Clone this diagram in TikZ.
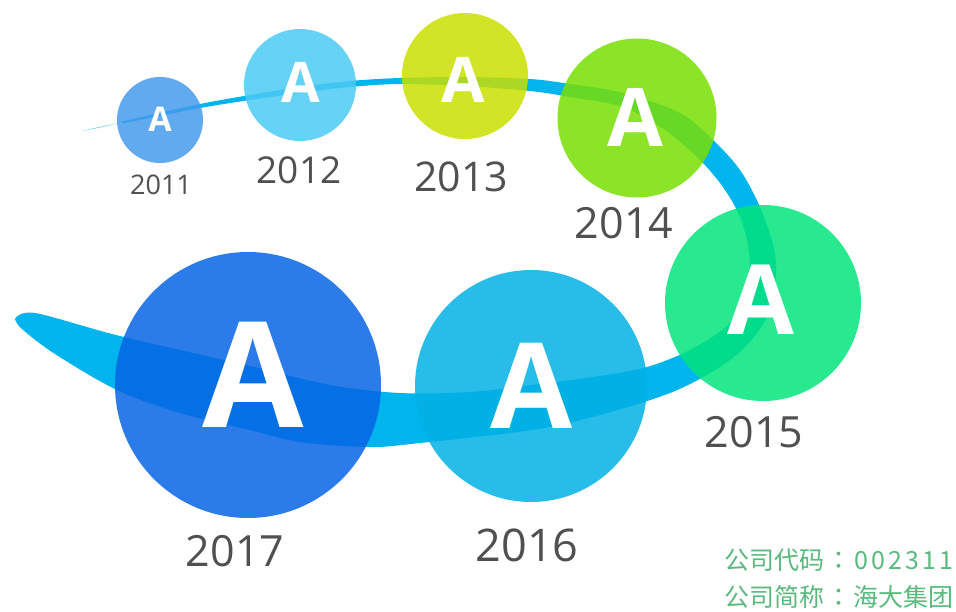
\documentclass[tikz,border=0pt]{standalone}
\usepackage{fontspec}
\setmainfont{Open Sans}
\newfontfamily\cjk{Noto Sans CJK SC}
\newfontfamily\cjktc{Noto Sans CJK TC}
\usetikzlibrary{fadings}
\definecolor{band}{RGB}{0,180,238}
\definecolor{labgray}{RGB}{80,80,80}
\definecolor{cA}{RGB}{70,155,237}
\definecolor{cB}{RGB}{75,202,243}
\definecolor{cC}{RGB}{202,223,0}
\definecolor{cD}{RGB}{120,223,2}
\definecolor{cE}{RGB}{2,228,124}
\definecolor{cF}{RGB}{2,176,228}
\definecolor{cG}{RGB}{6,100,228}
\definecolor{infogreen}{RGB}{90,185,125}
\newcommand{\fsz}[1]{\fontsize{#1}{#1}\selectfont}
\newcommand{\dg}[1]{\makebox[17pt]{#1}}
\newcommand{\fcolon}{\makebox[29pt]{\cjktc ：}}
\tikzset{
  bub/.style={circle, inner sep=0pt, draw=none, fill opacity=0.85},
  lett/.style={text=white, inner sep=0pt, font=\bfseries\fsz{#1}},
  yr/.style={text=labgray, inner sep=0pt, font=\fsz{#1}},
  info/.style={text=infogreen, inner sep=0pt, anchor=west, font=\cjk\fsz{25}}
}
\begin{document}
\begin{tikzpicture}[x=1pt,y=-1pt]
\useasboundingbox (0,0) rectangle (956,611);
% ribbon
\fill[band] plot[smooth, tension=0.55] coordinates {
 (82,131) (150,115) (200,104) (250,95) (300,87) (350,81) (400,78) (465,77) (530,79) (570,84) (623,93) (680,113) (713,140) (740,170) (760,207) (773,245) (776,275) (768,315) (745,347) (715,370) (670,393) (600,415) (532,430) (420,443) (370,447) (300,442) (250,430) (180,413) (117,390) (55,354) (22,329) (15,319)}
 -- plot[smooth, tension=0.55] coordinates {
 (15,319) (35,313) (120,336) (250,366) (330,385) (400,393) (470,392) (532,385) (600,376) (647,367) (690,350) (727,326) (745,300) (750,262) (742,222) (725,190) (700,160) (665,130) (623,107) (570,97) (530,91) (465,86) (400,84) (350,87) (300,93) (250,100) (200,108) (150,118) (82,131)} -- cycle;
\fill[white, path fading=west] (76,108) rectangle (122,145);
% bubbles
\node[bub, fill=cA, minimum size=86pt] (c2011) at (160,120) {};
\node[bub, fill=cB, minimum size=112pt] (c2012) at (300,85) {};
\node[bub, fill=cC, minimum size=126pt] (c2013) at (465,76) {};
\node[bub, fill=cD, minimum size=159pt] (c2014) at (637,118) {};
\node[bub, fill=cE, minimum size=196pt] (c2015) at (763,303) {};
\node[bub, fill=cF, minimum size=232pt] (c2016) at (531,386) {};
\node[bub, fill=cG, minimum size=266pt] (c2017) at (248,385) {};
% letters
\node[lett=34] (a2011) at (160,119) {A};
\node[lett=56] (a2012) at (301,82) {A};
\node[lett=63] (a2013) at (463,80) {A};
\node[lett=81] (a2014) at (635,117) {A};
\node[lett=97] (a2015) at (761,300) {A};
\node[lett=119] (a2016) at (532,386) {A};
\node[lett=147] (a2017) at (253,375) {A};
% years
\node[yr=27] (y2011) at (161,185) {2011};
\node[yr=37] (y2012) at (299,170) {2012};
\node[yr=41] (y2013) at (461,177) {2013};
\node[yr=43] (y2014) at (624,223) {2014};
\node[yr=43] (y2015) at (754,432) {2015};
\node[yr=45] (y2016) at (527,545) {2016};
\node[yr=43] (y2017) at (235,551) {2017};
% info
\node[info] (code) at (724,560) {公司代码\fcolon\dg{0}\dg{0}\dg{2}\dg{3}\dg{1}\dg{1}};
\node[info] (name) at (724,597) {公司简称\fcolon 海大集团};
\end{tikzpicture}
\end{document}
